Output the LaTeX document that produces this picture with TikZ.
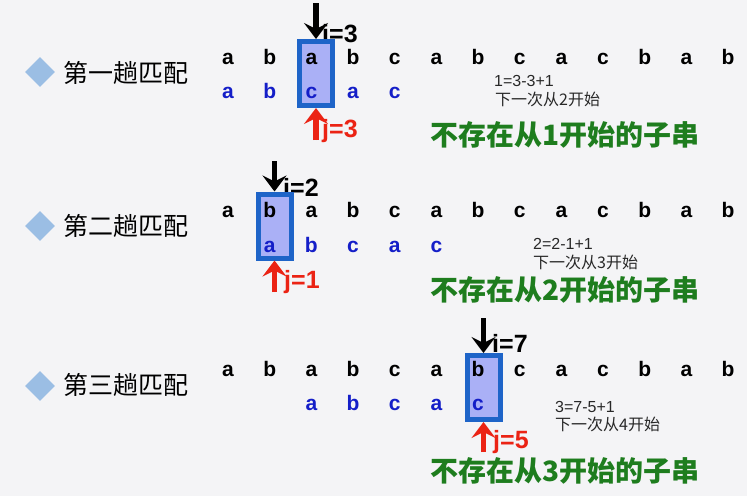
\documentclass[tikz,border=0pt]{standalone}
\usepackage{fontspec}
\setmainfont{Liberation Sans}
\newfontfamily\cjk{Noto Sans CJK SC}
\usetikzlibrary{arrows.meta}
\definecolor{bg}{RGB}{244,244,246}
\definecolor{boxfill}{RGB}{170,176,246}
\definecolor{boxline}{RGB}{30,100,200}
\definecolor{patblue}{RGB}{20,30,200}
\definecolor{okgreen}{RGB}{30,125,30}
\definecolor{ptrred}{RGB}{235,35,20}
\definecolor{diam}{RGB}{155,190,228}
\definecolor{note}{RGB}{40,40,40}
\begin{document}
\begin{tikzpicture}[x=1pt,y=-1pt,
  chr/.style={font=\fontsize{21}{21}\selectfont\bfseries, inner sep=0pt, anchor=base},
  patchr/.style={chr, text=patblue},
  cmpbox/.style={draw=boxline, fill=boxfill, line width=5pt, minimum width=33pt, minimum height=64pt, inner sep=0pt},
  ptrlabel/.style={font=\fontsize{25}{25}\selectfont\bfseries, inner sep=0pt, anchor=base west},
  iarrow/.style={line width=5.5pt, -{Stealth[length=16pt,width=24pt,inset=6pt]}},
  jarrow/.style={iarrow, draw=ptrred, fill=ptrred},
  title/.style={font=\cjk\fontsize{25}{25}\selectfont, inner sep=0pt, anchor=base west},
  bullet/.style={fill=diam, draw=none, minimum size=21pt, inner sep=0pt, rotate=45},
  verdict/.style={font=\cjk\fontsize{28}{28}\selectfont\bfseries, text=okgreen, inner sep=0pt, anchor=base west},
  notetxt/.style={font=\fontsize{16}{16}\selectfont, text=note, inner sep=0pt, anchor=base west},
  notecjk/.style={font=\cjk\fontsize{16}{16}\selectfont, text=note, inner sep=0pt, anchor=base west}
]
\useasboundingbox (0,0) rectangle (747,496);
\fill[bg] (0,0) rectangle (747,496);

% ---------- titles ----------
\node[bullet] (d1) at (40,72) {};
\node[title] (t1) at (63,82) {第一趟匹配};
\node[bullet] (d2) at (40,226) {};
\node[title] (t2) at (63,235) {第二趟匹配};
\node[bullet] (d3) at (40,386) {};
\node[title] (t3) at (63,394) {第三趟匹配};

% ---------- pointer labels (behind boxes) ----------
\node[ptrlabel] (i1) at (322,42) {i=3};
\node[ptrlabel] (i2) at (283,196) {i=2};
\node[ptrlabel] (i3) at (492,352) {i=7};

% ---------- boxes ----------
\node[cmpbox] (b1) at (316,73.5) {};
\node[cmpbox] (b2) at (274.5,226) {};
\node[cmpbox] (b3) at (483.5,387.5) {};

% ---------- main strings ----------
\foreach \c [count=\k from 0] in {a,b,a,b,c,a,b,c,a,c,b,a,b} {
  \node[chr] (ma\k) at ({228+41.67*\k},64) {\c};
  \node[chr] (mb\k) at ({228+41.67*\k},217) {\c};
  \node[chr] (mc\k) at ({228+41.67*\k},376) {\c};
}
% ---------- patterns ----------
\foreach \c [count=\k from 0] in {a,b,c,a,c} {
  \node[patchr] (pa\k) at ({228+41.67*\k},98) {\c};
  \node[patchr] (pb\k) at ({228+41.67*(\k+1)},252) {\c};
  \node[patchr] (pc\k) at ({228+41.67*(\k+2)},410) {\c};
}

% ---------- arrows ----------
\coordinate (ia1) at (316,3);
\coordinate (ia2) at (274.5,161);
\coordinate (ia3) at (483.5,318);
\draw[iarrow] (ia1) -- (b1.north);
\draw[iarrow] (ia2) -- (b2.north);
\draw[iarrow] (ia3) -- (b3.north);
\coordinate (ja1) at (316,140);
\coordinate (ja2) at (274.5,292);
\coordinate (ja3) at (483.5,452);
\draw[jarrow] (ja1) -- (b1.south);
\draw[jarrow] (ja2) -- (b2.south);
\draw[jarrow] (ja3) -- (b3.south);
\node[ptrlabel, text=ptrred] (j1) at (322,137) {j=3};
\node[ptrlabel, text=ptrred] (j2) at (284,288) {j=1};
\node[ptrlabel, text=ptrred] (j3) at (493,448) {j=5};

% ---------- notes ----------
\node[notetxt] (n1a) at (494,86) {1=3-3+1};
\node[notecjk] (n1b) at (495,105) {下一次从2开始};
\node[notetxt] (n2a) at (533,249) {2=2-1+1};
\node[notecjk] (n2b) at (533,268) {下一次从3开始};
\node[notetxt] (n3a) at (555,412) {3=7-5+1};
\node[notecjk] (n3b) at (555,430) {下一次从4开始};

% ---------- verdicts ----------
\node[verdict] (v1) at (430,145) {不存在从1开始的子串};
\node[verdict] (v2) at (430,300) {不存在从2开始的子串};
\node[verdict] (v3) at (430,481) {不存在从3开始的子串};
\end{tikzpicture}
\end{document}
